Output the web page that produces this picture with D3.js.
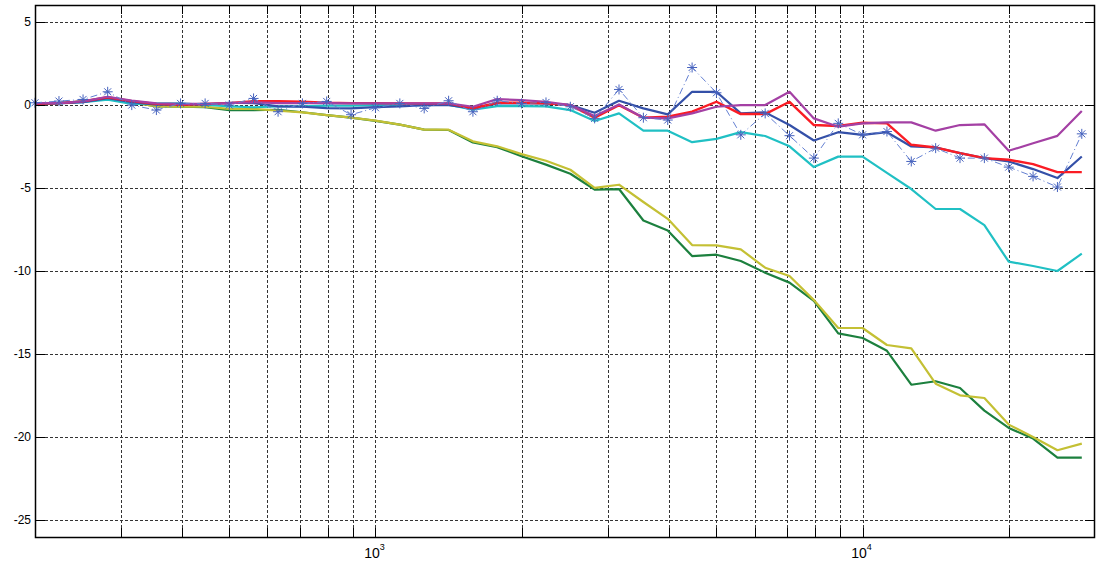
<!DOCTYPE html>
<html>
<head>
<meta charset="utf-8">
<script src="https://cdn.jsdelivr.net/npm/d3@7"></script>
<style>
    html, body { margin: 0; padding: 0; background: #fff; }
    svg { display: block; }
    .tick-label { font-family: "Liberation Sans", Arial, sans-serif; font-size: 12px; fill: #000; }
</style>
</head>
<body>
<div class="chart"></div>
<script>

/////////////////
// NAMING DATA //
/////////////////

// 1/20 decade frequency points (Hz)
var freqs = [200, 224, 251, 282, 316, 355, 398, 447, 501, 562, 631, 708, 794, 891,
    1000, 1122, 1259, 1413, 1585, 1778, 1995, 2239, 2512, 2818, 3162, 3548, 3981, 4467,
    5012, 5623, 6310, 7079, 7943, 8913, 10000, 11220, 12589, 14125, 15849, 17783,
    19953, 22387, 25119, 28184];

var greenVals = [0.05, 0.1, 0.2, 0.4, 0.15, -0.1, -0.12, -0.15, -0.32, -0.32, -0.3, -0.45, -0.62, -0.78,
    -0.97, -1.2, -1.5, -1.52, -2.27, -2.55, -3.1, -3.6, -4.15, -5.1, -5.07, -6.96, -7.56, -9.1,
    -9.02, -9.4, -10.1, -10.7, -11.8, -13.75, -14.03, -14.8, -16.84, -16.63, -17.04, -18.4,
    -19.44, -20.08, -21.23, -21.23];

var yellowVals = [0.05, 0.1, 0.18, 0.4, 0.15, -0.1, -0.12, -0.12, -0.25, -0.25, -0.36, -0.46, -0.62, -0.78,
    -0.96, -1.2, -1.5, -1.5, -2.2, -2.5, -2.97, -3.37, -3.91, -5.0, -4.81, -5.85, -6.86, -8.44,
    -8.46, -8.7, -9.8, -10.3, -11.75, -13.43, -13.43, -14.45, -14.65, -16.78, -17.48, -17.64,
    -19.24, -19.98, -20.78, -20.38];

var cyanVals = [0.05, 0.1, 0.15, 0.3, 0.05, 0.08, 0.08, 0.0, -0.1, -0.15, -0.1, -0.1, -0.05, -0.05,
    -0.02, -0.02, -0.02, 0.0, -0.3, -0.08, -0.08, -0.1, -0.32, -0.98, -0.52, -1.56, -1.56, -2.25,
    -2.05, -1.65, -1.88, -2.5, -3.75, -3.12, -3.12, -4.1, -5.07, -6.27, -6.27, -7.24,
    -9.44, -9.7, -10.0, -8.96];

var redVals = [0.05, 0.1, 0.2, 0.45, 0.22, 0.05, 0.0, 0.05, 0.1, 0.22, 0.22, 0.18, 0.12, 0.1,
    0.1, 0.08, 0.08, 0.08, -0.22, 0.12, 0.12, 0.08, -0.02, -0.78, -0.02, -0.78, -0.72, -0.42,
    0.18, -0.56, -0.56, 0.18, -1.22, -1.28, -1.08, -1.12, -2.41, -2.57, -2.91, -3.21,
    -3.31, -3.57, -4.05, -4.05];

var blueVals = [0.05, 0.08, 0.15, 0.4, 0.15, 0.0, 0.0, 0.02, 0.12, 0.1, -0.1, -0.12, -0.2, -0.22,
    -0.14, -0.1, -0.02, -0.02, -0.22, 0.08, 0.08, 0.08, -0.02, -0.48, 0.24, -0.22, -0.58, 0.78,
    0.78, -0.52, -0.46, -1.22, -2.15, -1.65, -1.81, -1.65, -2.51, -2.57, -2.91, -3.21,
    -3.41, -3.87, -4.41, -3.11];

var magentaVals = [0.1, 0.1, 0.2, 0.48, 0.25, 0.08, 0.05, 0.05, 0.1, 0.15, 0.1, 0.1, 0.1, 0.08,
    0.08, 0.08, 0.08, 0.08, -0.12, 0.34, 0.28, 0.18, -0.02, -0.68, 0.02, -0.78, -0.82, -0.52,
    -0.12, -0.02, -0.02, 0.78, -0.82, -1.32, -1.12, -1.06, -1.06, -1.56, -1.22, -1.18,
    -2.77, -2.32, -1.87, -0.38];

var starVals = [0.12, 0.22, 0.32, 0.78, -0.02, -0.32, 0.08, 0.08, -0.02, 0.38, -0.42, 0.08, 0.2, -0.6,
    -0.18, 0.08, -0.22, 0.24, -0.42, 0.24, 0.08, 0.14, -0.12, -0.82, 0.92, -0.78, -0.92, 2.24,
    0.72, -1.81, -0.52, -1.86, -3.21, -1.12, -1.81, -1.61, -3.41, -2.61, -3.21, -3.21,
    -3.75, -4.31, -4.95, -1.75];

var yTicks = [5, 0, -5, -10, -15, -20, -25];
var xMajor = [1000, 10000];
var xMinor = [300, 400, 500, 600, 700, 800, 900, 2000, 3000, 4000, 5000, 6000, 7000, 8000, 9000, 20000];

////////////////
// DIMENSIONS //
////////////////

var w = 1097,
    h = 566,
    plotLeft = 35,
    plotRight = 1095,
    plotTop = 5,
    plotBottom = 537;

var svg = d3.select('.chart')
    .append('svg')
    .attr('width', w)
    .attr('height', h);

////////////
// SCALES //
////////////

var xScale = d3.scaleLog()
    .domain([200, 30000])
    .range([plotLeft, plotRight]);

var yScale = d3.scaleLinear()
    .domain([-26, 6])
    .range([plotBottom, plotTop]);

function px(v) { return Math.round(v) + 0.5; }

//////////
// GRID //
//////////

var grid = svg.append('g')
    .attr('stroke', '#333')
    .attr('stroke-width', 1)
    .attr('stroke-dasharray', '3,2');

grid.selectAll('.vgrid')
    .data(xMajor.concat(xMinor))
    .enter()
    .append('line')
    .attr('x1', function(d) { return px(xScale(d)); })
    .attr('x2', function(d) { return px(xScale(d)); })
    .attr('y1', plotTop)
    .attr('y2', plotBottom);

grid.selectAll('.hgrid')
    .data(yTicks)
    .enter()
    .append('line')
    .attr('x1', plotLeft)
    .attr('x2', plotRight)
    .attr('y1', function(d) { return px(yScale(d)); })
    .attr('y2', function(d) { return px(yScale(d)); });

///////////
// LINES //
///////////

var line = d3.line()
    .x(function(d) { return xScale(d[0]); })
    .y(function(d) { return yScale(d[1]); });

var series = [
    { vals: greenVals, color: 'rgb(28,128,62)', width: 2.2 },
    { vals: yellowVals, color: 'rgb(196,192,52)', width: 2.2 },
    { vals: cyanVals, color: 'rgb(32,192,196)', width: 2.2 },
    { vals: blueVals, color: 'rgb(52,80,168)', width: 2.2 },
    { vals: redVals, color: 'rgb(250,28,36)', width: 2.4 },
    { vals: magentaVals, color: 'rgb(164,64,164)', width: 2.2 }
];

var plot = svg.append('g');

plot.selectAll('.series')
    .data(series)
    .enter()
    .append('path')
    .attr('class', 'series')
    .attr('fill', 'none')
    .attr('stroke', function(d) { return d.color; })
    .attr('stroke-width', function(d) { return d.width; })
    .attr('stroke-linejoin', 'round')
    .attr('d', function(d) {
        return line(freqs.map(function(f, i) { return [f, d.vals[i]]; }));
    });

// thin dash-dot line with * markers
var starData = freqs.map(function(f, i) { return [f, starVals[i]]; });

plot.append('path')
    .attr('fill', 'none')
    .attr('stroke', 'rgb(100,128,210)')
    .attr('stroke-width', 1)
    .attr('stroke-dasharray', '7,3,1,3')
    .attr('d', line(starData));

var r = 5, q = 3.5;
var starPath = 'M' + (-r) + ',0L' + r + ',0M0,' + (-r) + 'L0,' + r +
    'M' + (-q) + ',' + (-q) + 'L' + q + ',' + q + 'M' + (-q) + ',' + q + 'L' + q + ',' + (-q);

plot.selectAll('.star')
    .data(starData)
    .enter()
    .append('path')
    .attr('class', 'star')
    .attr('transform', function(d) { return 'translate(' + xScale(d[0]) + ',' + yScale(d[1]) + ')'; })
    .attr('d', starPath)
    .attr('fill', 'none')
    .attr('stroke', 'rgb(70,98,190)')
    .attr('stroke-width', 1);

//////////
// AXIS //
//////////

var axes = svg.append('g')
    .attr('stroke', '#000')
    .attr('stroke-width', 1);

var tickLen = 9;

// x ticks, bottom and top, inward
axes.selectAll('.xtick-b')
    .data(xMajor.concat(xMinor))
    .enter()
    .append('line')
    .attr('x1', function(d) { return px(xScale(d)); })
    .attr('x2', function(d) { return px(xScale(d)); })
    .attr('y1', plotBottom)
    .attr('y2', plotBottom - tickLen);

axes.selectAll('.xtick-t')
    .data(xMajor.concat(xMinor))
    .enter()
    .append('line')
    .attr('x1', function(d) { return px(xScale(d)); })
    .attr('x2', function(d) { return px(xScale(d)); })
    .attr('y1', plotTop)
    .attr('y2', plotTop + tickLen);

// y ticks, left and right, inward
axes.selectAll('.ytick-l')
    .data(yTicks)
    .enter()
    .append('line')
    .attr('x1', plotLeft)
    .attr('x2', plotLeft + 10)
    .attr('y1', function(d) { return px(yScale(d)); })
    .attr('y2', function(d) { return px(yScale(d)); });

axes.selectAll('.ytick-r')
    .data(yTicks)
    .enter()
    .append('line')
    .attr('x1', plotRight - 10)
    .attr('x2', plotRight)
    .attr('y1', function(d) { return px(yScale(d)); })
    .attr('y2', function(d) { return px(yScale(d)); });

// box
svg.append('rect')
    .attr('x', plotLeft + 0.5)
    .attr('y', plotTop + 0.5)
    .attr('width', plotRight - plotLeft - 1)
    .attr('height', plotBottom - plotTop)
    .attr('fill', 'none')
    .attr('stroke', '#000')
    .attr('stroke-width', 1.5);

/////////////////
// TICK LABELS //
/////////////////

svg.selectAll('.ylabel')
    .data(yTicks)
    .enter()
    .append('text')
    .attr('class', 'tick-label')
    .attr('x', 31)
    .attr('y', function(d) { return yScale(d) + 4; })
    .attr('text-anchor', 'end')
    .text(function(d) { return d; });

var xl = svg.selectAll('.xlabel')
    .data(xMajor)
    .enter()
    .append('text')
    .attr('class', 'tick-label')
    .attr('x', function(d) { return xScale(d) - 1; })
    .attr('y', 558)
    .attr('text-anchor', 'middle')
    .style('font-size', '14px');

xl.append('tspan')
    .text('10');

xl.append('tspan')
    .attr('dy', -8)
    .attr('font-size', '9px')
    .text(function(d) { return Math.round(Math.log10(d)); });

</script>
</body>
</html>
